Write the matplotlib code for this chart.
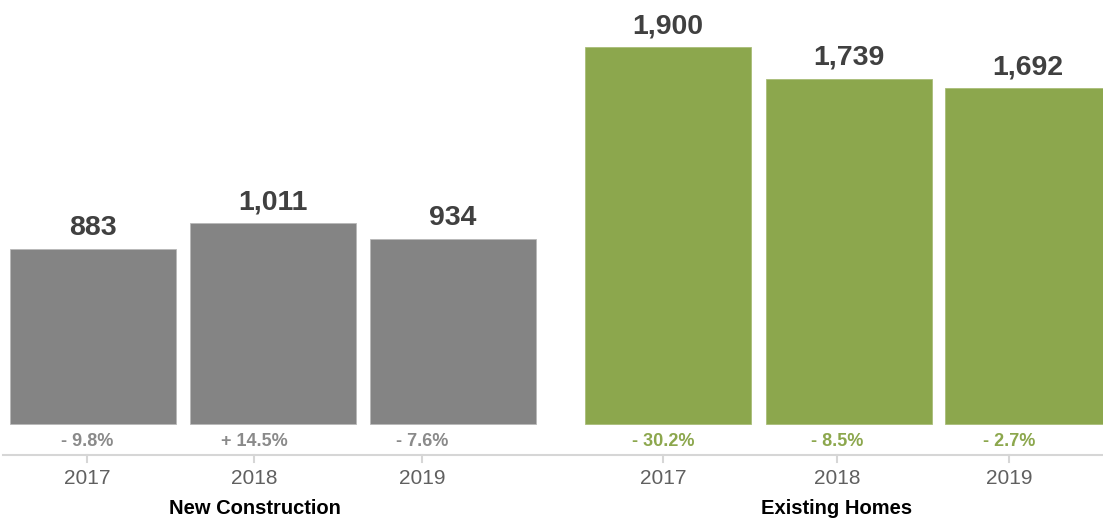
import matplotlib.pyplot as plt

plt.rcParams['font.family'] = ['Liberation Sans', 'DejaVu Sans']

groups = ['New Construction', 'Existing Homes']
years = ['2017', '2018', '2019']
new_construction = [883, 1011, 934]
existing_homes = [1900, 1739, 1692]
new_pct = ['- 9.8%', '+ 14.5%', '- 7.6%']
existing_pct = ['- 30.2%', '- 8.5%', '- 2.7%']

gray = '#848484'
green = '#8ca74d'

# layout (pixel-like x units)
bar_left = [[10, 190, 370], [585, 766, 945]]
bar_w = 166
tick_x = [[87, 254, 422], [663, 837, 1009]]
group_x = [255, 837]

scale = 0.1984  # px per unit
def yv(p):
    return (424 - p) / scale

fig = plt.figure(figsize=(11.03, 5.22), dpi=100)
ax = fig.add_axes([0, 0, 1, 1])
ax.set_xlim(0, 1103)
ax.set_ylim(yv(522), yv(0))
ax.axis('off')

series = [new_construction, existing_homes]
pcts = [new_pct, existing_pct]
colors = [gray, green]
pct_colors = ['#8a8a8a', '#8ca74d']

for g in range(2):
    lefts = bar_left[g]
    ax.bar(lefts, series[g], width=bar_w, align='edge', color=colors[g],
           edgecolor='#b8b8b8' if g == 0 else '#a9bd78', linewidth=0.6)
    for i, v in enumerate(series[g]):
        ax.text(lefts[i] + bar_w / 2, v + 14 / scale, f'{v:,}', ha='center', va='baseline',
                fontsize=20.5, fontweight='bold', color='#404040')
        ax.text(tick_x[g][i], yv(441), pcts[g][i], ha='center', va='center',
                fontsize=13, fontweight='bold', color=pct_colors[g])
        ax.text(tick_x[g][i], yv(479), years[i], ha='center', va='center',
                fontsize=15, color='#606060')
        ax.plot([tick_x[g][i]] * 2, [yv(455), yv(462)], color='#d6d6d6', lw=1.5)
    ax.text(group_x[g], yv(508), groups[g], ha='center', va='center',
            fontsize=14.5, fontweight='bold', color='#000000')

ax.axhline(yv(455), color='#d6d6d6', lw=1.5, xmin=0.003)

fig.savefig('out.png', dpi=100)
